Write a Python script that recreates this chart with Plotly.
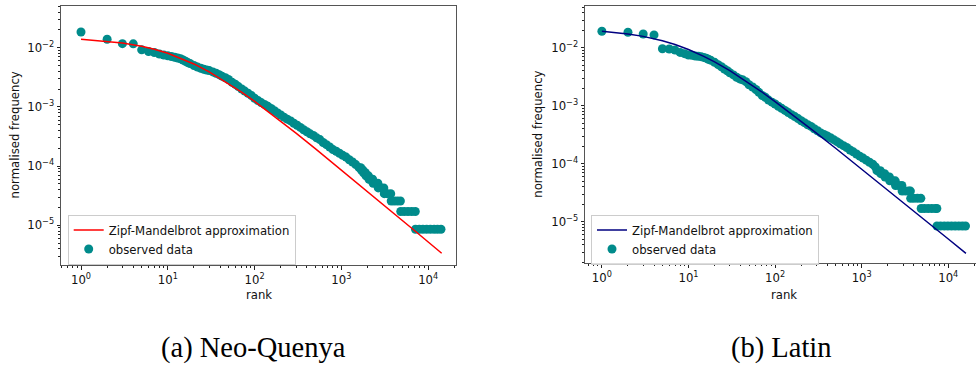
import plotly.graph_objects as go

# ---------------- Neo-Quenya (a) ----------------
nq_rank = [1, 2, 3, 4, 5, 6, 7, 8, 9, 10,
           11, 12, 13, 14, 15, 16, 17, 18, 20, 22, 24, 26, 28, 30, 33, 36, 39, 42, 46, 50,
           55, 60, 65, 71, 77, 84, 92, 100, 109, 119, 130, 142, 155, 169, 184, 200, 218, 238,
           260, 283, 309, 337, 367, 400, 436, 475, 518, 565, 616, 672, 733, 799, 871, 950,
           1036, 1130, 1232, 1343, 1464,
           1600, 1670, 1700, 1770, 1800, 1890, 1920, 2050, 2080, 2180, 2290,
           2320, 2480, 2630, 2660, 2860, 3080, 3120, 3380, 3700,
           3750, 4050, 4400, 4780, 4830, 5300, 5850, 6450, 7100,
           7140, 7900, 8700, 9600, 10600, 11700, 12800, 14040]
nq_freq = [0.0184, 0.0139, 0.0117, 0.0116, 0.0092, 0.0086, 0.0083, 0.0078, 0.0075, 0.0073,
           0.0071, 0.0069, 0.0067, 0.0065, 0.0062, 0.0059, 0.0056, 0.0054, 0.0050, 0.0047,
           0.0045, 0.0043, 0.0042, 0.0041, 0.0039, 0.0037, 0.0035, 0.0033, 0.0031, 0.0029,
           0.0026, 0.0024, 0.0022, 0.0020, 0.00185, 0.0017, 0.00155, 0.00140, 0.00128, 0.00118,
           0.00110, 0.00102, 0.00094, 0.00086, 0.00079, 0.00073, 0.00067, 0.00062,
           0.00058, 0.00053, 0.00049, 0.00045, 0.00041, 0.00038, 0.00035, 0.00033, 0.00030,
           0.00028, 0.00025, 0.00023, 0.00021, 0.00019, 0.000178, 0.000165,
           0.000152, 0.000142, 0.000128, 0.000117, 0.000106,
           9.4e-5, 9.4e-5, 8.55e-5, 8.55e-5, 7.7e-5, 7.7e-5, 6.84e-5, 6.84e-5, 5.99e-5, 5.99e-5, 5.99e-5,
           5.13e-5, 5.13e-5, 5.13e-5, 4.28e-5, 4.28e-5, 4.28e-5, 3.42e-5, 3.42e-5, 3.42e-5,
           2.57e-5, 2.57e-5, 2.57e-5, 2.57e-5, 1.71e-5, 1.71e-5, 1.71e-5, 1.71e-5, 1.71e-5,
           8.55e-6, 8.55e-6, 8.55e-6, 8.55e-6, 8.55e-6, 8.55e-6, 8.55e-6, 8.55e-6]
nq_fit_rank = [1, 2, 3, 5, 7, 10, 15, 20, 30, 50, 70, 100, 150, 200, 300, 500, 700, 1000,
               1500, 2000, 3000, 5000, 7000, 10000, 14300]
nq_fit_freq = [0.01387, 0.01288, 0.0120, 0.01055, 0.00939, 0.00803, 0.00642, 0.00531, 0.00391,
               0.00249, 0.00179, 0.00124, 7.96e-4, 5.76e-4, 3.61e-4, 1.975e-4, 1.32e-4, 8.60e-5,
               5.27e-5, 3.72e-5, 2.27e-5, 1.217e-5, 8.07e-6, 5.21e-6, 3.37e-6]

# ---------------- Latin (b) ----------------
la_rank = [1, 2, 3, 4, 5, 6, 7, 8, 9, 10,
           11, 12, 13, 14, 15, 16, 17, 18, 20, 22, 24, 26, 28, 30, 33, 36, 39, 42, 46, 50,
           55, 60, 65, 71, 77, 84, 92, 100, 109, 119, 130, 142, 155, 169, 184, 200, 218, 238,
           260, 283, 309, 337, 367, 400, 436, 475, 518, 565, 616, 672, 733, 799, 871, 950,
           1036, 1130, 1232, 1343, 1440,
           1500, 1640, 1660, 1750, 1840, 1860, 1980, 2090, 2110, 2280, 2440,
           2460, 2680, 2910, 2930, 3200, 3500, 3650, 3680, 4000, 4400, 4820,
           4860, 5300, 5850, 6450, 7100, 7380,
           7400, 8150, 9000, 9900, 10900, 12000, 13200, 14500, 15800]
la_freq = [0.0192, 0.0185, 0.0172, 0.0166, 0.0096, 0.0095, 0.0091, 0.0083, 0.0079, 0.0075,
           0.0074, 0.0072, 0.0071, 0.0070, 0.0068, 0.0066, 0.0063, 0.0061, 0.0056, 0.0051,
           0.0047, 0.0043, 0.0040, 0.0037, 0.0034, 0.0031, 0.0029, 0.0028, 0.0026, 0.0023,
           0.0021, 0.0019, 0.0017, 0.0015, 0.0014, 0.00125, 0.00115, 0.00107, 0.00098, 0.00090,
           0.00083, 0.00076, 0.00070, 0.00065, 0.00060, 0.00055, 0.00051, 0.00047,
           0.00044, 0.00040, 0.00037, 0.00034, 0.00032, 0.00030, 0.00028, 0.00026, 0.00024,
           0.00022, 0.000205, 0.000190, 0.000172, 0.000160, 0.000147, 0.000135,
           0.000125, 0.000115, 0.000106, 0.000098, 0.000088,
           7.59e-5, 7.59e-5, 6.74e-5, 6.74e-5, 6.74e-5, 5.9e-5, 5.9e-5, 5.9e-5, 5.06e-5, 5.06e-5, 5.06e-5,
           4.21e-5, 4.21e-5, 4.21e-5, 3.37e-5, 3.37e-5, 3.37e-5, 3.37e-5, 2.53e-5, 2.53e-5, 2.53e-5, 2.53e-5,
           1.69e-5, 1.69e-5, 1.69e-5, 1.69e-5, 1.69e-5, 1.69e-5,
           8.43e-6, 8.43e-6, 8.43e-6, 8.43e-6, 8.43e-6, 8.43e-6, 8.43e-6, 8.43e-6, 8.43e-6]
la_fit_rank = [1, 2, 3, 5, 7, 10, 15, 20, 30, 50, 70, 100, 150, 200, 300, 500, 700, 1000,
               1500, 2000, 3000, 5000, 7000, 10000, 16000]
la_fit_freq = [0.01919, 0.01727, 0.01568, 0.01318, 0.01133, 0.00931, 0.00710, 0.00570, 0.00402,
               0.00246, 0.00174, 0.00118, 7.51e-4, 5.40e-4, 3.37e-4, 1.847e-4, 1.237e-4, 8.08e-5,
               4.97e-5, 3.51e-5, 2.155e-5, 1.163e-5, 7.74e-6, 5.03e-6, 2.85e-6]

x_tickvals = [1, 10, 100, 1000, 10000]
x_ticktext = ["10<sup>0</sup>", "10<sup>1</sup>", "10<sup>2</sup>", "10<sup>3</sup>", "10<sup>4</sup>"]
y_tickvals = [1e-5, 1e-4, 1e-3, 1e-2]
y_ticktext = ["10<sup>\u22125</sup>", "10<sup>\u22124</sup>", "10<sup>\u22123</sup>", "10<sup>\u22122</sup>"]

labels = ["Zipf-Mandelbrot approximation", "observed data"]
captions = ["(a) Neo-Quenya", "(b) Latin"]

W, H = 976, 367
TEAL = "#008b8b"
FONT = "DejaVu Sans"
FS = 11.7
SERIF = "Liberation Serif"

x_minor = [k * 10 ** d for d in range(-1, 5) for k in range(2, 10)]
y_minor = [k * 10.0 ** d for d in range(-7, 0) for k in range(2, 10)]

fig = go.Figure()

fig.add_trace(go.Scatter(x=nq_rank, y=nq_freq, mode="markers", name=labels[1],
                         marker=dict(color=TEAL, size=9, line=dict(width=0)),
                         xaxis="x", yaxis="y", legend="legend"))
fig.add_trace(go.Scatter(x=nq_fit_rank, y=nq_fit_freq, mode="lines", name=labels[0],
                         line=dict(color="#ff0000", width=1.5),
                         xaxis="x", yaxis="y", legend="legend"))
fig.add_trace(go.Scatter(x=la_rank, y=la_freq, mode="markers", name=labels[1],
                         marker=dict(color=TEAL, size=9, line=dict(width=0)),
                         xaxis="x2", yaxis="y2", legend="legend2"))
fig.add_trace(go.Scatter(x=la_fit_rank, y=la_fit_freq, mode="lines", name=labels[0],
                         line=dict(color="#000080", width=1.5),
                         xaxis="x2", yaxis="y2", legend="legend2"))


def ax(kind, rng, domain, anchor, mirror):
    d = dict(type="log", range=rng, domain=domain, anchor=anchor,
             showgrid=False, zeroline=False, showline=True, linecolor="#555555",
             linewidth=1, mirror=mirror, ticks="outside", ticklen=3.5, tickwidth=1,
             tickcolor="#222222",
             tickfont=dict(family=FONT, size=FS, color="#111111"))
    if kind == "x":
        d.update(tickmode="array", tickvals=x_tickvals, ticktext=x_ticktext,
                 minor=dict(tickmode="array", tickvals=x_minor, ticks="outside",
                            ticklen=2, tickcolor="#222222", tickwidth=1))
    else:
        d.update(tickmode="array", tickvals=y_tickvals, ticktext=y_ticktext,
                 minor=dict(tickmode="array", tickvals=y_minor, ticks="outside",
                            ticklen=2, tickcolor="#222222", tickwidth=1))
    return d


L0, L1 = 61, 456
R0, R1 = 585, 976
leg = dict(yanchor="middle", xanchor="left",
           bgcolor="rgba(255,255,255,0.8)", bordercolor="#cccccc", borderwidth=1,
           font=dict(family=FONT, size=FS, color="#111111"), traceorder="reversed",
           itemwidth=30, tracegroupgap=0)
fig.update_layout(
    width=W, height=H, autosize=False,
    margin=dict(l=0, r=0, t=0, b=0),
    paper_bgcolor="white", plot_bgcolor="white",
    showlegend=True,
    xaxis=ax("x", [-0.2304, 4.3203], [L0 / W, L1 / W], "y", True),
    yaxis=ax("y", [-5.671, -1.291], [1 - 265 / H, 1 - 5.7 / H], "x", True),
    xaxis2=ax("x", [-0.195, 4.320], [R0 / W, R1 / W], "y2", True),
    yaxis2=ax("y", [-5.717, -1.281], [1 - 263.3 / H, 1 - 6 / H], "x2", False),
    legend=dict(x=67.7 / W, y=1 - 239.5 / H, **leg),
    legend2=dict(x=591 / W, y=1 - 239.5 / H, **leg),
)

ann = []
# axis titles
ann.append(dict(text="rank", x=258.5 / W, y=1 - 295 / H, xref="paper", yref="paper",
                showarrow=False, xanchor="center", yanchor="middle",
                font=dict(family=FONT, size=FS, color="#111111")))
ann.append(dict(text="rank", x=784 / W, y=1 - 295 / H, xref="paper", yref="paper",
                showarrow=False, xanchor="center", yanchor="middle",
                font=dict(family=FONT, size=FS, color="#111111")))
ann.append(dict(text="normalised frequency", x=14 / W, y=1 - 135.5 / H, xref="paper", yref="paper",
                showarrow=False, xanchor="center", yanchor="middle", textangle=-90,
                font=dict(family=FONT, size=FS, color="#111111")))
ann.append(dict(text="normalised frequency", x=538 / W, y=1 - 134.7 / H, xref="paper", yref="paper",
                showarrow=False, xanchor="center", yanchor="middle", textangle=-90,
                font=dict(family=FONT, size=FS, color="#111111")))
# captions
ann.append(dict(text=captions[0], x=253 / W, y=1 - 348 / H, xref="paper", yref="paper",
                showarrow=False, xanchor="center", yanchor="middle",
                font=dict(family=SERIF, size=28.5, color="black")))
ann.append(dict(text=captions[1], x=781 / W, y=1 - 348 / H, xref="paper", yref="paper",
                showarrow=False, xanchor="center", yanchor="middle",
                font=dict(family=SERIF, size=28.5, color="black")))
fig.update_layout(annotations=ann)

fig.write_html("out.html")
